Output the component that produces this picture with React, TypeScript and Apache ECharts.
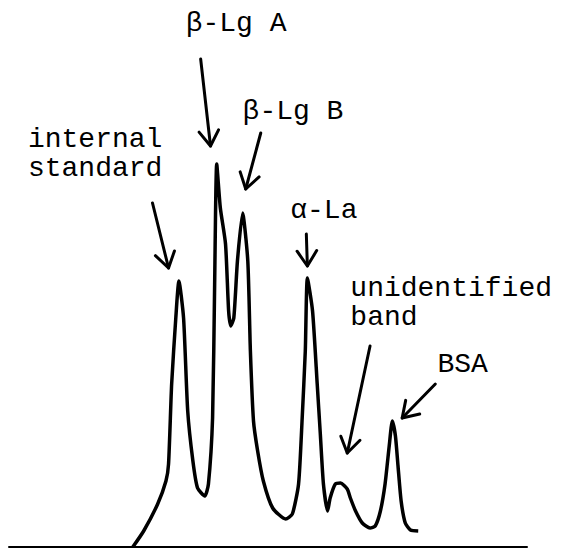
import React, { useEffect, useRef } from "react";
import * as echarts from "echarts";

// Densitometer trace (migration distance, relative absorbance)
const traceX = [23.9, 26.0, 28.7, 30.3, 30.8, 31.4, 32.2, 32.8, 33.7, 34.5, 35.5, 36.4, 37.8, 38.5, 39.3, 39.7, 40.1, 40.8, 41.8, 42.4, 42.8, 43.4, 44.1, 45.1, 46.1, 46.6, 47.2, 48.0, 49.1, 50.9, 53.4, 54.7, 55.9, 56.6, 57.2, 57.6, 58.6, 59.5, 60.1, 60.7, 61.5, 62.0, 63.0, 64.0, 65.3, 65.9, 66.9, 68.2, 69.7, 70.7, 71.7, 72.6, 73.4, 74.0, 74.6, 75.1, 75.7, 76.5, 77.5, 79.0];
const traceY = [0, 3.2, 8.6, 13.2, 16.6, 32.6, 45.8, 53.2, 45.8, 27.2, 17.2, 11.8, 10.2, 12.6, 25.8, 52.6, 76.6, 67.8, 60.6, 47.2, 44.2, 45.8, 57.2, 66.8, 57.2, 39.2, 25.2, 19.2, 13.2, 7.8, 5.6, 6.6, 12.6, 25.8, 39.2, 53.8, 47.2, 32.6, 22.6, 12.6, 7.2, 9.8, 12.6, 12.8, 11.6, 9.8, 7.2, 4.8, 3.8, 4.2, 7.2, 12.6, 20.2, 25.2, 22.2, 16.2, 9.2, 4.8, 3.4, 3.2];

// Annotations
const labels = ["internal\nstandard", "β-Lg A", "β-Lg B", "α-La", "unidentified\nband", "BSA"];
const labelX = [3.66, 34.1, 45.1, 54.3, 65.9, 82.7];
const labelY = [79.6, 102.8, 85.2, 65.4, 49.8, 34.6];
const arrowFromX = [27.7, 37.0, 48.6, 57.4, 69.7, 82.3];
const arrowFromY = [68.8, 97.6, 82.8, 62.6, 40.2, 32.6];
const arrowToX = [30.8, 38.9, 45.7, 57.6, 65.3, 75.9];
const arrowToY = [55.8, 80.2, 71.6, 56.2, 18.8, 25.8];

export default function App() {
  const ref = useRef<HTMLDivElement>(null);
  useEffect(() => {
    if (!ref.current) return;
    const chart = echarts.init(ref.current, null, { renderer: "svg" });
    const font = "Liberation Mono, DejaVu Sans Mono, monospace";
    const fs = 28;
    const lineGap = 29;
    const headLen = 18;
    const headAng = (33 * Math.PI) / 180;
    chart.setOption({
      animation: false,
      backgroundColor: "#fff",
      grid: { left: 9, right: 42, top: 47, bottom: 2 },
      xAxis: {
        type: "value",
        min: 0,
        max: 100,
        axisLine: { show: true, lineStyle: { color: "#000", width: 2 } },
        axisTick: { show: false },
        axisLabel: { show: false },
        splitLine: { show: false },
      },
      yAxis: {
        type: "value",
        min: 0,
        max: 100,
        show: false,
        splitLine: { show: false },
      },
      series: [
        {
          type: "line",
          data: traceX.map((x, i) => [x, traceY[i]]),
          showSymbol: false,
          smooth: 0.2,
          lineStyle: { color: "#000", width: 3.5 },
          z: 3,
        },
        {
          type: "custom",
          data: labels.map((_, i) => [arrowToX[i], arrowToY[i]]),
          encode: { x: 0, y: 1 },
          z: 4,
          renderItem: (params: any, api: any) => {
            const i = params.dataIndex;
            const s = api.coord([arrowFromX[i], arrowFromY[i]]);
            const t = api.coord([arrowToX[i], arrowToY[i]]);
            const dx = s[0] - t[0];
            const dy = s[1] - t[1];
            const len = Math.hypot(dx, dy) || 1;
            const ux = dx / len;
            const uy = dy / len;
            const rot = (a: number) => [
              t[0] + headLen * (ux * Math.cos(a) - uy * Math.sin(a)),
              t[1] + headLen * (ux * Math.sin(a) + uy * Math.cos(a)),
            ];
            const lp = api.coord([labelX[i], labelY[i]]);
            return {
              type: "group",
              children: [
                {
                  type: "line",
                  shape: { x1: s[0], y1: s[1], x2: t[0], y2: t[1] },
                  style: { stroke: "#000", lineWidth: 3, lineCap: "round" },
                },
                {
                  type: "polyline",
                  shape: { points: [rot(headAng), t, rot(-headAng)] },
                  style: { stroke: "#000", lineWidth: 3, fill: "none", lineCap: "round", lineJoin: "round" },
                },
                {
                  type: "text",
                  style: {
                    text: labels[i],
                    x: lp[0],
                    y: lp[1] - 10 - lineGap / 2,
                    fill: "#000",
                    fontSize: fs,
                    lineHeight: lineGap,
                    fontFamily: font,
                    align: "left",
                    verticalAlign: "top",
                  },
                },
              ],
            };
          },
        },
      ],
    });
    return () => chart.dispose();
  }, []);
  return (
    <div
      ref={ref}
      style={{ position: "absolute", left: 0, top: 0, width: 569, height: 549 }}
    />
  );
}
